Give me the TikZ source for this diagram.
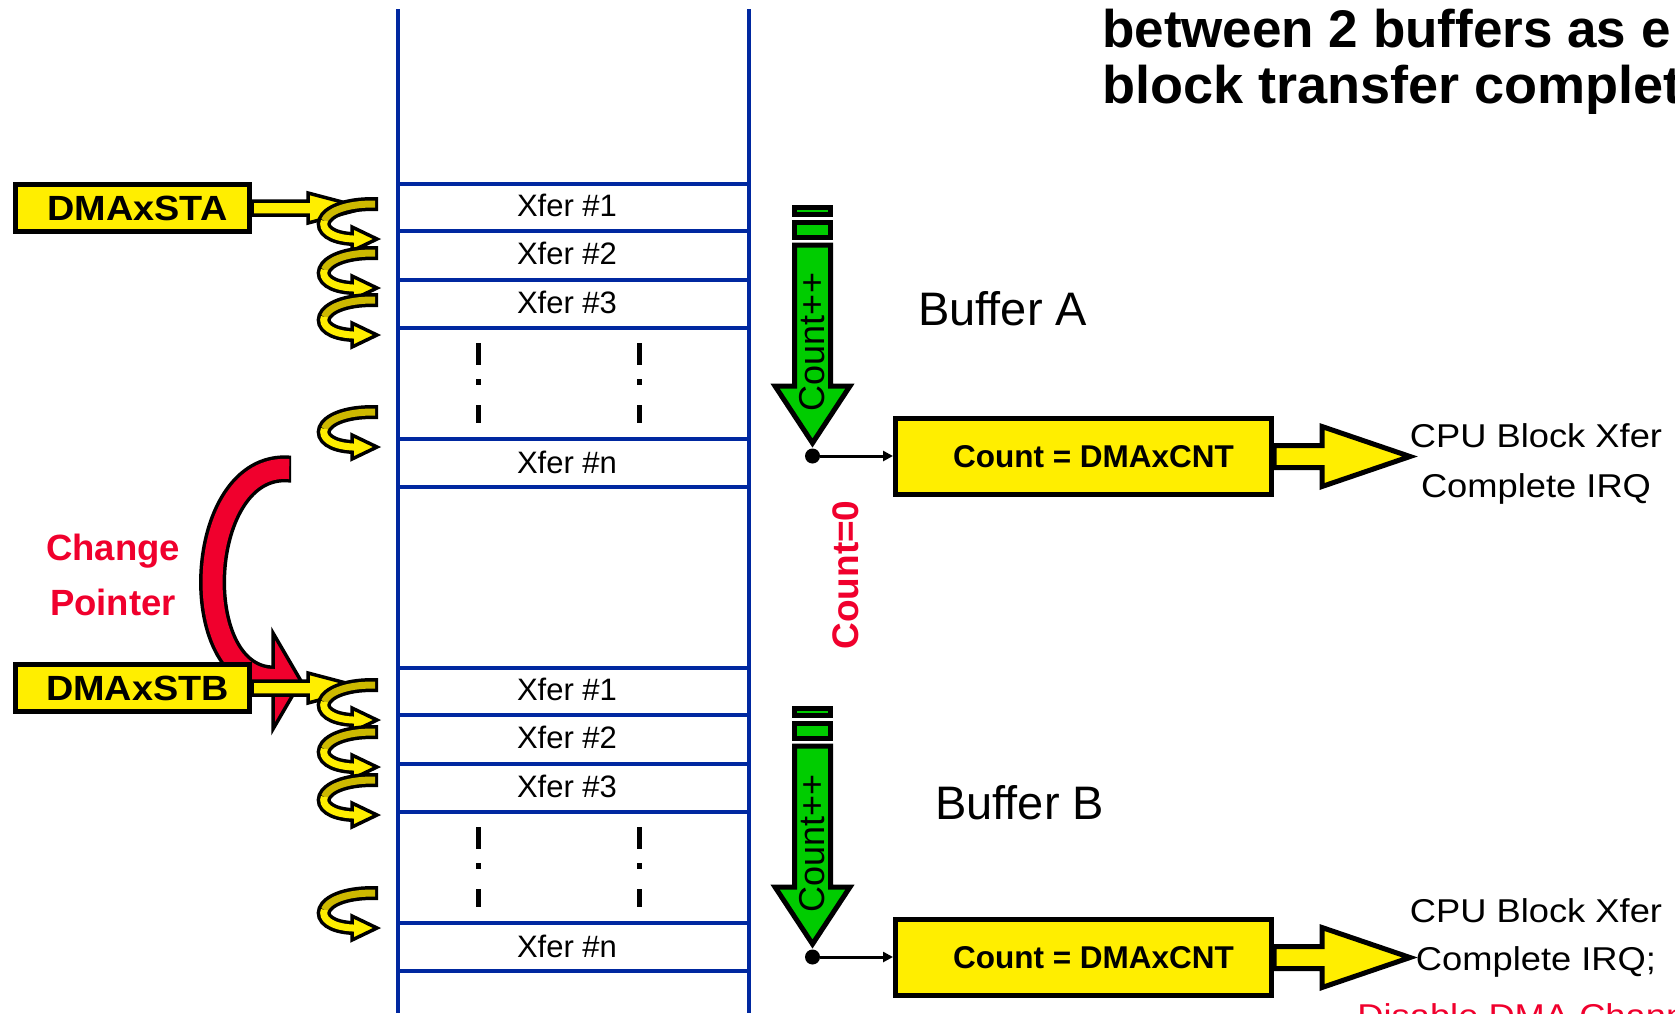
\documentclass[tikz,border=0pt]{standalone}
\usepackage{fontspec}
\setmainfont{Liberation Sans}
\usepackage{graphicx}
\usetikzlibrary{arrows.meta,calc}

\definecolor{laneblue}{RGB}{0,40,160}
\definecolor{regyellow}{RGB}{255,238,0}
\definecolor{shadeyellow}{RGB}{205,185,0}
\definecolor{ptrred}{RGB}{240,0,45}
\definecolor{cntgreen}{RGB}{0,204,0}

\newcommand{\fsz}[1]{\fontsize{#1}{#1}\selectfont}
\newcommand{\widen}[2]{\scalebox{#1}[1]{#2}}

% U-turn step arrow beside the buffer column; #1 = y of its upper end
\newcommand{\stepcurl}[1]{%
  \begin{scope}[shift={(0,#1)}]
    \draw[line width=14, black] (378,0) -- (373,0) .. controls (315,0) and (308,33) .. (353,35);
    \filldraw[feed] (352,23) -- (377,35) -- (352,47) -- cycle;
    \draw[line width=7, shadeyellow] (375,0) -- (373,0) .. controls (344,0) and (327.75,8.25) .. (324.375,16.75);
    \draw[line width=7, regyellow] (324.375,16.75) .. controls (321,25.25) and (330.5,34) .. (353,35) -- (358,35);
  \end{scope}}

% counter stack with its down arrow; #1 = vertical offset, #2 = name prefix
\newcommand{\countstack}[2]{%
  \begin{scope}[shift={(0,#1)}]
    \filldraw[piece] (794.5,207.5) rectangle (830.5,214.5);
    \filldraw[piece] (794.5,222.5) rectangle (830.5,237.5);
    \filldraw[piece] (794.5,245) -- (830.5,245) -- (830.5,386) -- (850,386)
      -- (812.5,443) -- (775,386) -- (794.5,386) -- cycle;
    \node[rotate=90, font=\fsz{36}, inner sep=0] (#2inc) at (812.5,342) {Count++};
    \node[tapdot] (#2dot) at (812.5,456) {};
  \end{scope}}

% dash-dot-dash marks standing for the skipped rows; #1 = vertical offset
\newcommand{\skipmarks}[1]{%
  \begin{scope}[shift={(0,#1)}]
    \foreach \mx in {478,639} {
      \draw[line width=5] (\mx,343) -- (\mx,365);
      \draw[line width=5] (\mx,379) -- (\mx,385);
      \draw[line width=5] (\mx,405) -- (\mx,423);
    }
  \end{scope}}

\begin{document}
\begin{tikzpicture}[x=1pt, y=-1pt,
  lane/.style={draw=laneblue, line width=4},
  xfer/.style={font=\fsz{31}, inner sep=0},
  regbox/.style={draw=black, line width=5, fill=regyellow, minimum width=234,
    minimum height=47, inner sep=0, font=\bfseries\fsz{35}},
  cntbox/.style={draw=black, line width=5, fill=regyellow, minimum width=376,
    minimum height=76, inner sep=0, font=\bfseries\fsz{31.5}},
  feed/.style={fill=regyellow, draw=black, line width=3.5, line join=miter},
  outarrow/.style={fill=regyellow, draw=black, line width=5, line join=miter},
  piece/.style={fill=cntgreen, draw=black, line width=5, line join=miter},
  tapdot/.style={circle, fill=black, inner sep=0, minimum size=15},
  tapline/.style={draw=black, line width=3, -{Triangle[length=10pt,width=10pt]}},
  note/.style={font=\fsz{33}, anchor=base, inner sep=0},
  ptrtext/.style={font=\bfseries\fsz{36.5}, text=ptrred, anchor=base, inner sep=0}]

\useasboundingbox (0,0) rectangle (1675,1013);
\fill[white] (0,0) rectangle (1675,1013);
\clip (0,0) rectangle (1675,1013);

% title (runs past the right edge)
\node[anchor=base west, inner sep=0, font=\bfseries\fsz{53}] (title1) at (1102,47) {between 2 buffers as e};
\node[anchor=base west, inner sep=0, font=\bfseries\fsz{53}] (title2) at (1102,103) {\widen{1.02}{block transfer complete}};

% memory column
\draw[lane] (398,9) -- (398,1013);
\draw[lane] (749,9) -- (749,1013);
\foreach \ry in {183.7,230.7,279.8,327.9,439,487,667.5,714.5,763.6,811.7,922.8,970.8}
  \draw[lane] (398,\ry) -- (749,\ry);

\node[xfer] (a1) at (567,205) {Xfer \#1};
\node[xfer] (a2) at (567,253) {Xfer \#2};
\node[xfer] (a3) at (567,302) {Xfer \#3};
\node[xfer] (an) at (567,462) {Xfer \#n};
\node[xfer] (b1) at (567,689) {Xfer \#1};
\node[xfer] (b2) at (567,737) {Xfer \#2};
\node[xfer] (b3) at (567,786) {Xfer \#3};
\node[xfer] (bn) at (567,946) {Xfer \#n};
\skipmarks{0}
\skipmarks{484}

% pointer swap arrow
\draw[line width=27, black] (291,469) -- (289,469) .. controls (195,462) and (185,679) .. (274,679);
\filldraw[fill=ptrred, draw=black, line width=3.5, line join=miter] (273,633) -- (301,681) -- (273,729) -- cycle;
\draw[line width=20, ptrred] (288,469) -- (289,469) .. controls (195,462) and (185,679) .. (274,679) -- (282,679);
\node[ptrtext] (chg) at (113,560) {Change};
\node[ptrtext] (ptr) at (113,615) {Pointer};

% start address registers
\node[regbox] (sta) at (132.5,208) {\hspace*{10pt}\widen{1.08}{DMAxSTA}};
\node[regbox] (stb) at (132.5,688) {\hspace*{10pt}\widen{1.08}{DMAxSTB}};
\filldraw[feed] (sta.east) ++(0,-7) -- ++(56,0) -- ++(0,-8) -- ++(57,15) -- ++(-57,15) -- ++(0,-8) -- ++(-56,0) -- cycle;
\filldraw[feed] (stb.east) ++(0,-7) -- ++(56,0) -- ++(0,-8) -- ++(57,15) -- ++(-57,15) -- ++(0,-8) -- ++(-56,0) -- cycle;

% address steps
\foreach \cy in {204,253,300,412,685,732,780,893} { \stepcurl{\cy} }

% transfer counters
\countstack{0}{A}
\countstack{501}{B}
\node[cntbox] (cntA) at (1083.5,456.5) {\hspace*{20pt}Count = DMAxCNT};
\node[cntbox] (cntB) at (1083.5,957.5) {\hspace*{20pt}Count = DMAxCNT};
\draw[tapline] (Adot) -- (Adot -| cntA.west);
\draw[tapline] (Bdot) -- (Bdot -| cntB.west);
\filldraw[outarrow] (cntA.east) ++(0,-11) -- ++(48,0) -- ++(0,-19) -- ++(88,30) -- ++(-88,30) -- ++(0,-19) -- ++(-48,0) -- cycle;
\filldraw[outarrow] (cntB.east) ++(0,-11) -- ++(48,0) -- ++(0,-19) -- ++(88,30) -- ++(-88,30) -- ++(0,-19) -- ++(-48,0) -- cycle;

\node[rotate=90, font=\bfseries\fsz{37}, text=ptrred, inner sep=0] (czero) at (846,575) {Count=0};

\node[font=\fsz{47}, anchor=west, inner sep=0] (bufA) at (918,309) {Buffer A};
\node[font=\fsz{47}, anchor=west, inner sep=0] (bufB) at (935,803) {Buffer B};

% interrupt notes
\node[note] (irqA1) at (1536,447) {\widen{1.1}{CPU Block Xfer}};
\node[note] (irqA2) at (1536,497) {\widen{1.1}{Complete IRQ}};
\node[note] (irqB1) at (1536,922) {\widen{1.1}{CPU Block Xfer}};
\node[note] (irqB2) at (1536,970) {\widen{1.1}{Complete IRQ;}};
\node[note, text=ptrred] (irqB3) at (1536,1027) {\widen{1.1}{Disable DMA Channel}};
\end{tikzpicture}
\end{document}
